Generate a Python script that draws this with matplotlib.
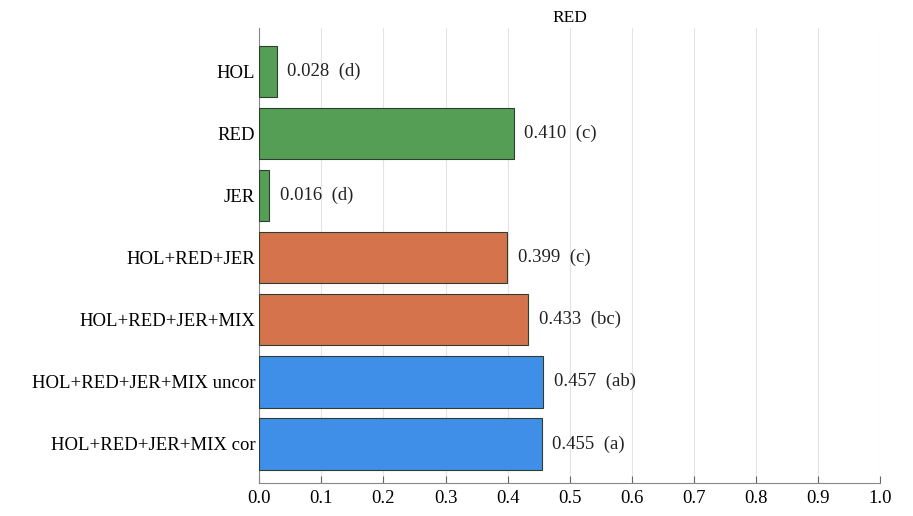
import matplotlib
matplotlib.use("Agg")
import matplotlib.pyplot as plt

categories = ["HOL", "RED", "JER", "HOL+RED+JER", "HOL+RED+JER+MIX",
              "HOL+RED+JER+MIX uncor", "HOL+RED+JER+MIX cor"]
values = [0.028, 0.410, 0.016, 0.399, 0.433, 0.457, 0.455]
letters = ["d", "c", "d", "c", "bc", "ab", "a"]
groups = ["single", "single", "single", "multi", "multi", "mix", "mix"]
colors_map = {"single": "#559e55", "multi": "#d5744c", "mix": "#3f8fe8"}
xticks = [0.0, 0.1, 0.2, 0.3, 0.4, 0.5, 0.6, 0.7, 0.8, 0.9, 1.0]

plt.rcParams['font.family'] = ['Liberation Serif', 'DejaVu Serif']

fig = plt.figure(figsize=(9.13, 5.16), dpi=100)
ax = fig.add_axes([0.284, 0.064, 0.68, 0.882])

ypos = list(range(len(categories)))
cols = [colors_map[g] for g in groups]
ax.barh(ypos, values, height=0.83, color=cols, edgecolor="#2f3f2f", linewidth=0.8, zorder=3)
for y, v, l in zip(ypos, values, letters):
    ax.text(v + 0.017, y, f"{v:.3f}  ({l})", va="center", ha="left", fontsize=13.5, color="#222222")

ax.set_yticks(ypos)
ax.set_yticklabels(categories, fontsize=13.5)
ax.set_xticks(xticks)
ax.set_xticklabels([f"{t:.1f}" for t in xticks], fontsize=13.5)
ax.set_xlim(0, 1.0)
ax.set_ylim(6.63, -0.7)
ax.grid(axis="x", color="#e4e4e4", linewidth=0.8, zorder=0)
for s in ["top", "right"]:
    ax.spines[s].set_visible(False)
ax.spines["left"].set_color("#888888")
ax.spines["bottom"].set_color("#888888")
ax.tick_params(axis="x", direction="in", length=5, color="#666666", pad=5)
ax.tick_params(axis="y", direction="in", length=3, color="#666666", pad=3)
ax.set_title("RED", fontsize=12.5, pad=4)

fig.savefig("out.png", dpi=100)
